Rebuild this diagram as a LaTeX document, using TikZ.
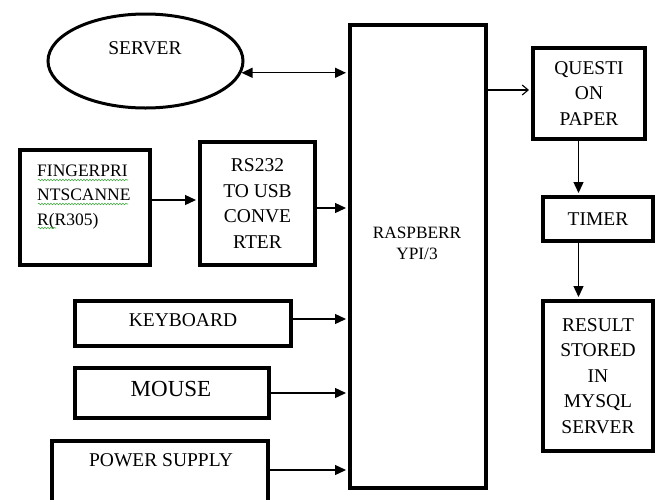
\documentclass[tikz,border=0pt]{standalone}
\usepackage{fontspec}
\setmainfont{Liberation Serif}
\usetikzlibrary{arrows.meta,shapes.geometric,decorations.pathmorphing}
\definecolor{spell}{RGB}{70,170,70}
\begin{document}
\begin{tikzpicture}[x=1pt,y=-1pt,
  box/.style={draw, rectangle, line width=4pt, inner sep=0pt},
  txt/.style={inner sep=0pt, align=center, font=\fontsize{19.5}{25.5}\selectfont},
  arr/.style={line width=1.3pt, shorten >=2pt, -{Triangle[length=11pt,width=10pt]}},
  darr/.style={line width=1.3pt, shorten >=2pt, {Triangle[length=11pt,width=10pt]}-{Triangle[length=11pt,width=10pt]}},
  oarr/.style={line width=1.1pt, shorten >=2pt, -{Straight Barb[length=6pt,width=10pt,line width=1.1pt]}},
  wavy/.style={draw=spell, line width=0.6pt, decorate, decoration={snake, segment length=3pt, amplitude=0.8pt}}]
\useasboundingbox (0,0) rectangle (660,499);
\clip (0,0) rectangle (660,499);
% boxes
\node[draw, ellipse, line width=3pt, minimum width=195pt, minimum height=94pt, inner sep=0pt] (srv) at (145.5,61) {};
\node[txt] (srvt) at (145,48) {SERVER};
\node[box, minimum width=130pt, minimum height=115pt] (fp) at (85,207.5) {};
\node[txt, anchor=west, align=left, font=\fontsize{17.5}{24.5}\selectfont] (fpt) at (37,197) {FINGERPRI\\NTSCANNE\\R(R305)};
\node[box, minimum width=115pt, minimum height=123pt, txt] (rs) at (257.5,203.5) {RS232\\TO USB\\CONVE\\RTER};
\node[box, minimum width=136pt, minimum height=463pt] (rpi) at (418,256.5) {};
\node[txt, font=\fontsize{17.3}{21}\selectfont] (rpit) at (417,243) {RASPBERR\\YPI/3};
\node[box, minimum width=112pt, minimum height=91pt, txt] (q) at (589,93.5) {QUESTI\\ON\\PAPER};
\node[box, minimum width=110pt, minimum height=44pt, txt] (timer) at (598,219) {TIMER};
\node[box, minimum width=110pt, minimum height=150pt, txt] (res) at (598,376) {RESULT\\STORED\\IN\\MYSQL\\SERVER};
\node[box, minimum width=216pt, minimum height=45pt] (kb) at (183,323.5) {};
\node[txt] (kbt) at (183,320) {KEYBOARD};
\node[box, minimum width=194pt, minimum height=50pt] (ms) at (172,393) {};
\node[txt, font=\fontsize{23}{28}\selectfont] (mst) at (171,389) {MOUSE};
\node[box, minimum width=216pt, minimum height=79pt] (pw) at (160,480.5) {};
\node[txt] (pwt) at (161,460) {POWER SUPPLY};
% spell-check underlines
\coordinate (w1a) at (38,180); \coordinate (w1b) at (128,180);
\coordinate (w2a) at (38,204); \coordinate (w2b) at (128,204);
\coordinate (w3a) at (38,228); \coordinate (w3b) at (56,228);
\draw[wavy] (w1a) -- (w1b);
\draw[wavy] (w2a) -- (w2b);
\draw[wavy] (w3a) -- (w3b);
% level coordinates
\coordinate (y1) at (0,200);
\coordinate (y2) at (0,208);
\coordinate (y3) at (0,319);
\coordinate (y4) at (0,470);
\coordinate (y5) at (0,90);
\coordinate (x1) at (578.5,0);
% connectors
\draw[darr] (srv.-7) -- (rpi.west |- srv.-7);
\draw[arr] (fp.east |- y1) -- (rs.west |- y1);
\draw[arr] (rs.east |- y2) -- (rpi.west |- y2);
\draw[arr] (kb.east |- y3) -- (rpi.west |- y3);
\draw[arr] (ms.east) -- (rpi.west |- ms.east);
\draw[arr] (pw.east |- y4) -- (rpi.west |- y4);
\draw[oarr] (rpi.east |- y5) -- (q.west |- y5);
\draw[arr] (q.south -| x1) -- (timer.north -| x1);
\draw[arr] (timer.south -| x1) -- (res.north -| x1);
\end{tikzpicture}
\end{document}
